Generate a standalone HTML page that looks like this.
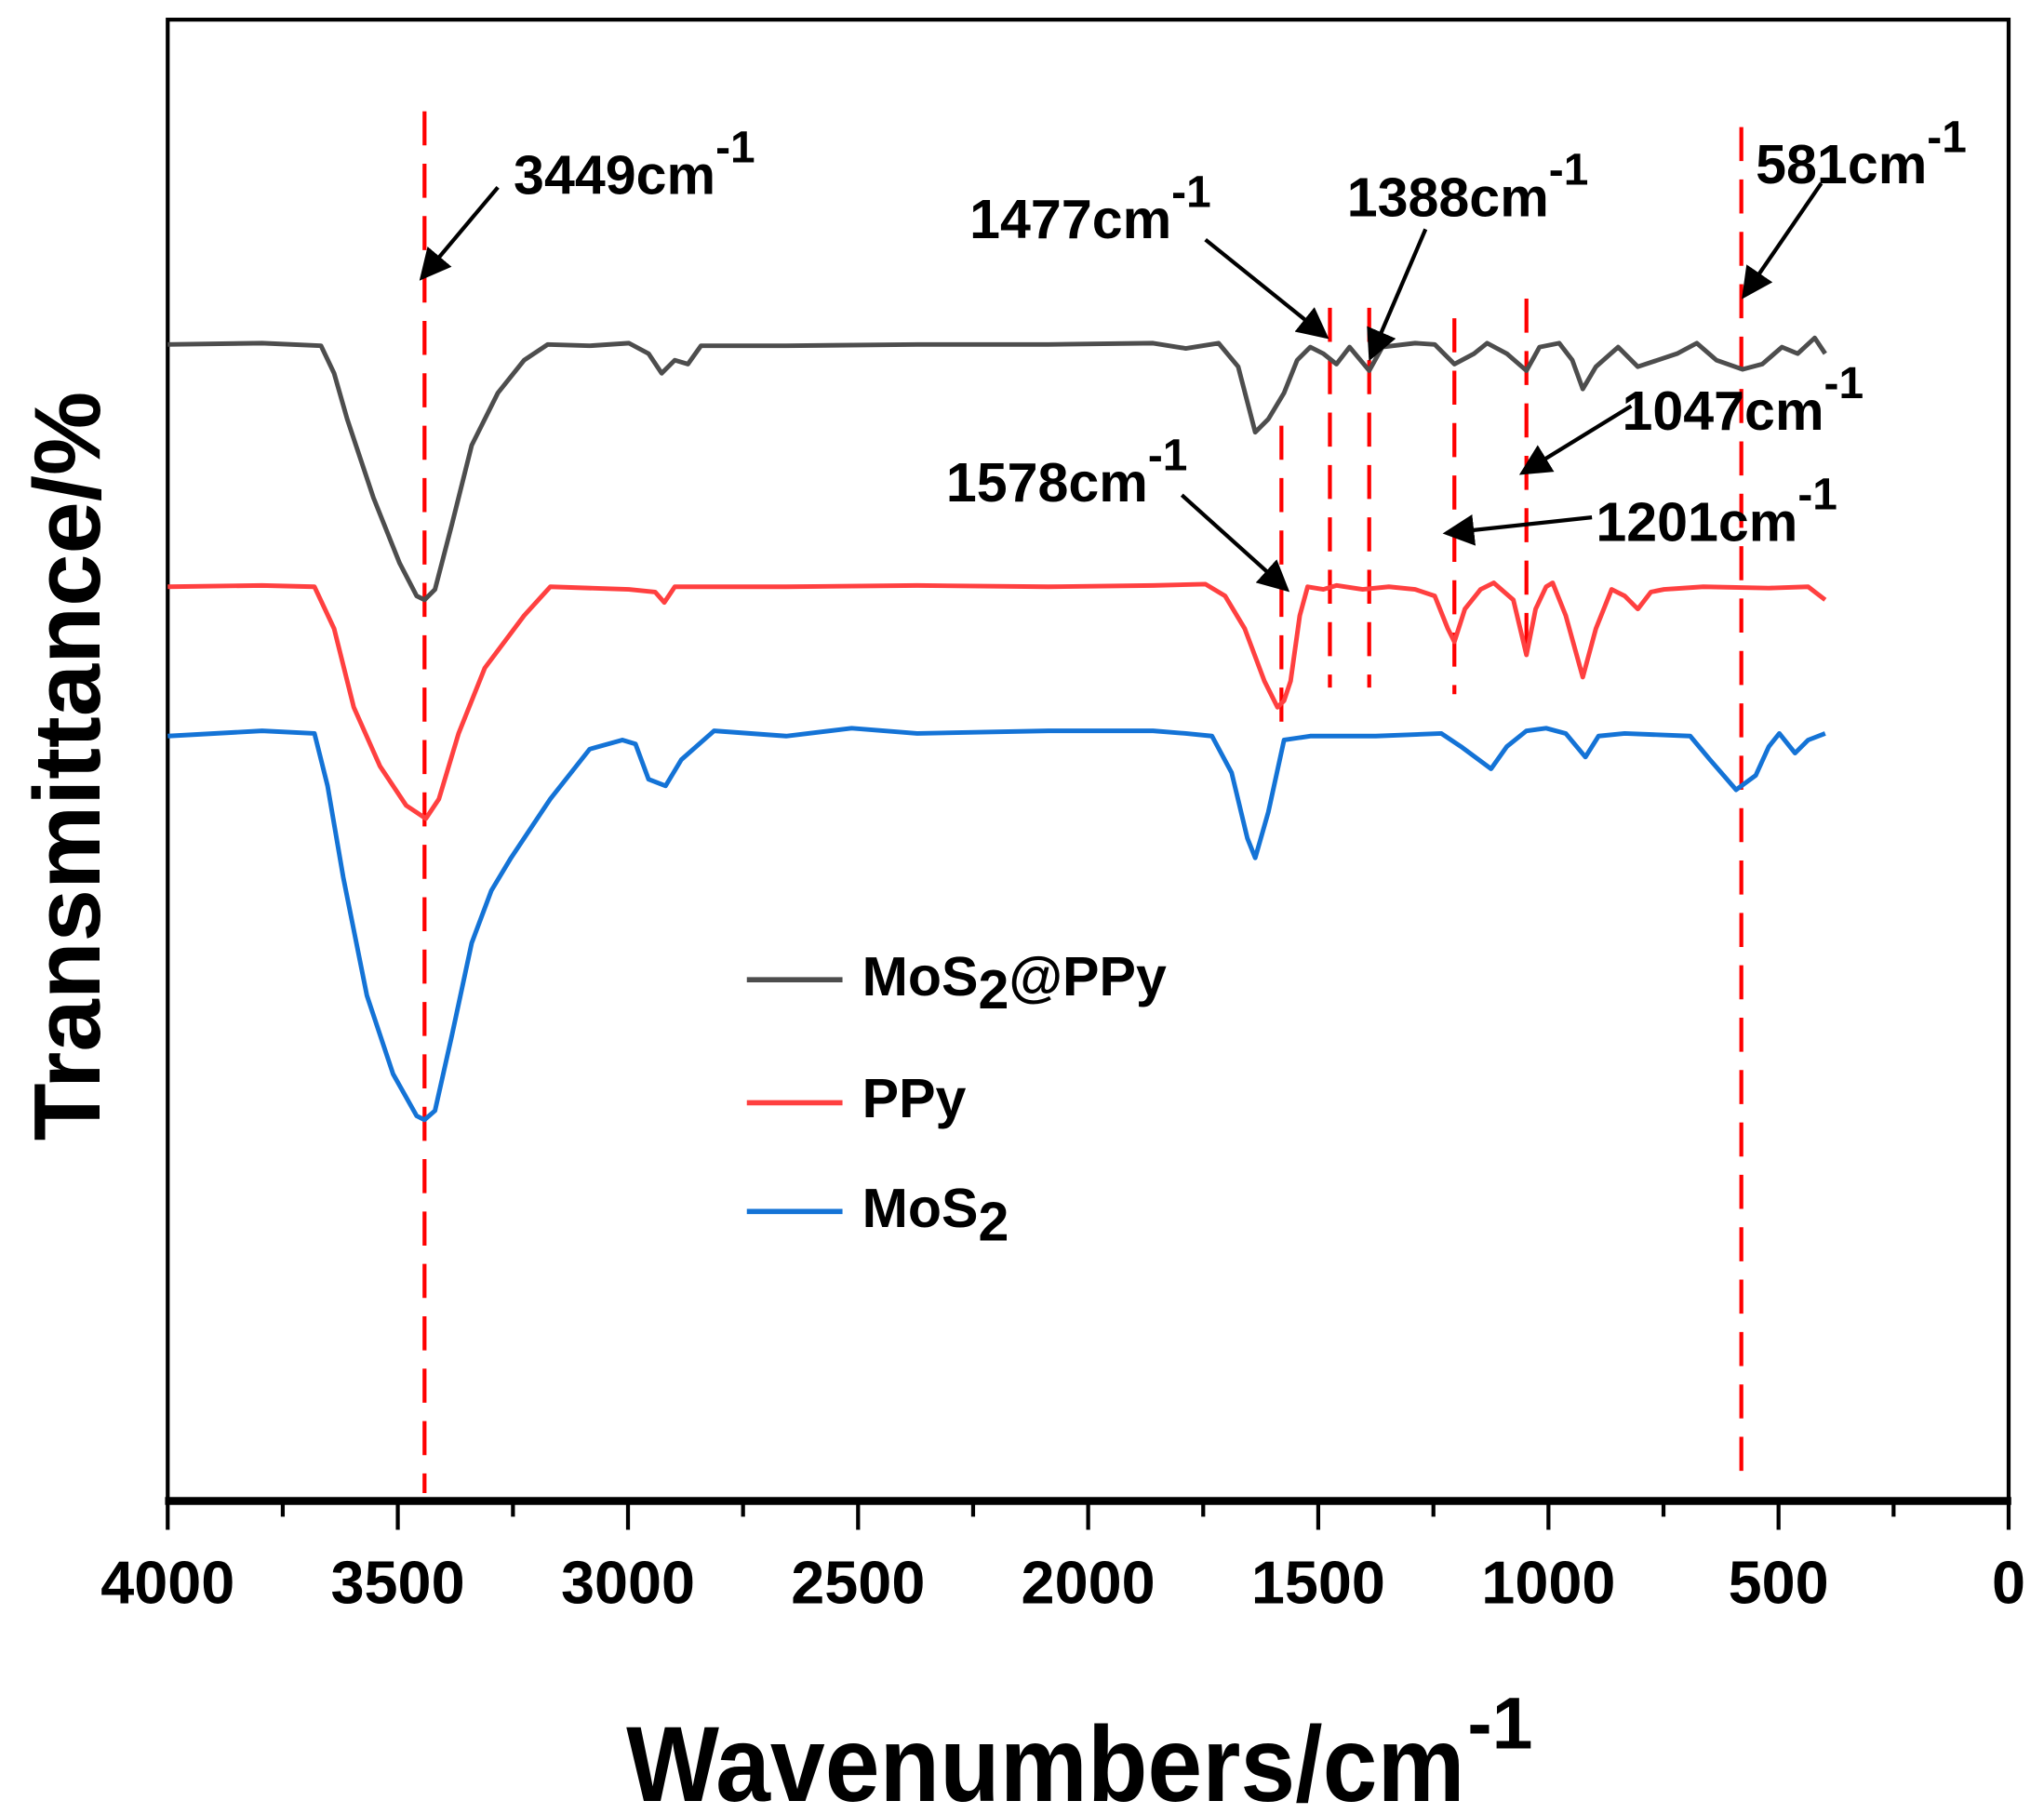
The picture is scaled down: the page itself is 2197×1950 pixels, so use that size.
<!DOCTYPE html>
<html><head><meta charset="utf-8"><style>html,body{margin:0;padding:0;background:#fff}svg{display:block}</style></head>
<body>
<svg width="2197" height="1950" viewBox="0 0 1560 1385" preserveAspectRatio="none" xmlns="http://www.w3.org/2000/svg" font-family="Liberation Sans, Arial, sans-serif" font-weight="bold">
<defs><marker id="ah" markerWidth="8" markerHeight="8" refX="7" refY="4" orient="auto" markerUnits="strokeWidth"><path d="M0,0 L8,4 L0,8 z" fill="#000"/></marker></defs>
<rect x="128" y="15" width="1405" height="1130" fill="none" stroke="#000" stroke-width="3"/>
<line x1="126" y1="1146" x2="1535" y2="1146" stroke="#000" stroke-width="6"/>
<g stroke="#000" stroke-width="3">
<line x1="128" y1="1146" x2="128" y2="1168"/><line x1="303.6" y1="1146" x2="303.6" y2="1168"/><line x1="479.3" y1="1146" x2="479.3" y2="1168"/><line x1="654.9" y1="1146" x2="654.9" y2="1168"/><line x1="830.5" y1="1146" x2="830.5" y2="1168"/><line x1="1006.1" y1="1146" x2="1006.1" y2="1168"/><line x1="1181.8" y1="1146" x2="1181.8" y2="1168"/><line x1="1357.4" y1="1146" x2="1357.4" y2="1168"/><line x1="1533" y1="1146" x2="1533" y2="1168"/>
<line x1="215.8" y1="1146" x2="215.8" y2="1158"/><line x1="391.5" y1="1146" x2="391.5" y2="1158"/><line x1="567.1" y1="1146" x2="567.1" y2="1158"/><line x1="742.7" y1="1146" x2="742.7" y2="1158"/><line x1="918.3" y1="1146" x2="918.3" y2="1158"/><line x1="1094" y1="1146" x2="1094" y2="1158"/><line x1="1269.6" y1="1146" x2="1269.6" y2="1158"/><line x1="1445.2" y1="1146" x2="1445.2" y2="1158"/>
</g>
<g font-size="46" text-anchor="middle">
<text x="128" y="1224">4000</text><text x="303.6" y="1224">3500</text><text x="479.3" y="1224">3000</text><text x="654.9" y="1224">2500</text><text x="830.5" y="1224">2000</text><text x="1006.1" y="1224">1500</text><text x="1181.8" y="1224">1000</text><text x="1357.4" y="1224">500</text><text x="1533" y="1224">0</text>
</g>
<text x="478" y="1375" font-size="82" textLength="640" lengthAdjust="spacingAndGlyphs">Wavenumbers/cm</text>
<text x="1120" y="1335" font-size="56">-1</text>
<text transform="translate(76,585) rotate(-90)" font-size="72" text-anchor="middle">Transmittance/%</text>
<g stroke="#f00" stroke-width="3" stroke-dasharray="26,14" fill="none">
<line x1="324" y1="85" x2="324" y2="1140"/><line x1="1329" y1="97" x2="1329" y2="1135"/>
<line x1="978" y1="325" x2="978" y2="555"/><line x1="1015" y1="235" x2="1015" y2="525"/><line x1="1045" y1="235" x2="1045" y2="525"/><line x1="1110" y1="243" x2="1110" y2="530"/><line x1="1165" y1="228" x2="1165" y2="505"/>
</g>
<g fill="none" stroke-width="3.5" stroke-linejoin="round">
<polyline stroke="#4d4d4d" points="128,263 200,262 245,264 255,285 265,320 285,380 305,430 318,455 324,458 332,450 345,400 360,340 380,300 400,275 418,263 450,264 480,262 495,270 505,285 515,275 525,278 535,264 600,264 700,263 800,263 880,262 905,266 930,262 945,280 958,330 968,320 980,300 990,275 1000,265 1010,270 1020,278 1030,265 1045,283 1055,265 1080,262 1095,263 1110,278 1125,270 1135,262 1150,270 1165,283 1175,265 1190,262 1200,275 1208,297 1218,280 1235,265 1250,280 1265,275 1280,270 1295,262 1310,275 1330,282 1345,278 1360,265 1372,270 1385,258 1393,270"/>
<polyline stroke="#ff4040" points="128,448 200,447 240,448 255,480 270,540 290,585 310,615 325,625 335,610 350,560 370,510 400,470 420,448 480,450 500,452 507,460 515,448 600,448 700,447 800,448 880,447 920,446 935,455 950,480 965,520 975,540 980,535 985,520 992,470 998,448 1010,450 1020,447 1040,450 1060,448 1080,450 1095,455 1105,480 1110,490 1118,465 1130,450 1140,445 1155,458 1165,500 1172,465 1180,448 1185,445 1195,470 1208,517 1218,480 1230,450 1240,455 1250,465 1260,452 1270,450 1300,448 1350,449 1380,448 1393,458"/>
<polyline stroke="#1473d6" points="128,562 200,558 240,560 250,600 262,670 280,760 300,820 318,852 324,855 332,848 345,790 360,720 375,680 390,655 420,610 450,572 475,565 485,568 495,595 508,600 520,580 545,558 600,562 650,556 700,560 800,558 880,558 905,560 925,562 940,590 952,640 958,655 968,620 980,565 1000,562 1050,562 1100,560 1115,570 1138,587 1150,570 1165,558 1180,556 1195,560 1210,578 1220,562 1240,560 1290,562 1305,580 1325,603 1340,592 1350,570 1358,560 1370,575 1380,565 1393,560"/>
</g>
<g stroke="#000" stroke-width="3" marker-end="url(#ah)">
<line x1="380" y1="143" x2="322" y2="212"/>
<line x1="920" y1="183" x2="1012" y2="257"/>
<line x1="1088" y1="175" x2="1046" y2="273"/>
<line x1="1390" y1="140" x2="1331" y2="226"/>
<line x1="1245" y1="310" x2="1162" y2="361"/>
<line x1="902" y1="378" x2="982" y2="450"/>
<line x1="1215" y1="395" x2="1104" y2="407"/>
</g>
<g font-size="42">
<text x="392" y="148">3449cm<tspan dy="-24" font-size="34">-1</tspan></text>
<text x="740" y="182">1477cm<tspan dy="-24" font-size="34">-1</tspan></text>
<text x="1028" y="165">1388cm<tspan dy="-24" font-size="34">-1</tspan></text>
<text x="1340" y="140">581cm<tspan dy="-24" font-size="34">-1</tspan></text>
<text x="1238" y="328">1047cm<tspan dy="-24" font-size="34">-1</tspan></text>
<text x="722" y="383">1578cm<tspan dy="-24" font-size="34">-1</tspan></text>
<text x="1218" y="413">1201cm<tspan dy="-24" font-size="34">-1</tspan></text>
</g>
<g stroke-width="4">
<line x1="570" y1="748" x2="643" y2="748" stroke="#4d4d4d"/>
<line x1="570" y1="842" x2="643" y2="842" stroke="#ff4040"/>
<line x1="570" y1="925" x2="643" y2="925" stroke="#1473d6"/>
</g>
<g font-size="42">
<text x="658" y="760">MoS<tspan dy="10">2</tspan><tspan dy="-10">@PPy</tspan></text>
<text x="658" y="853">PPy</text>
<text x="658" y="937">MoS<tspan dy="10">2</tspan></text>
</g>
</svg>
</body></html>
